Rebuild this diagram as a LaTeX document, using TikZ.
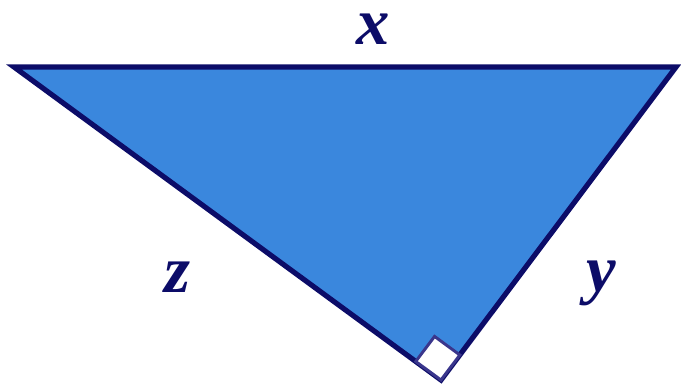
\documentclass[tikz,border=0pt]{standalone}
\usepackage{fontspec}
\setmainfont{Liberation Serif}
\usepackage{xcolor}
\usepackage{tikz}
\usetikzlibrary{calc}
\definecolor{triblue}{RGB}{58,135,221}
\definecolor{trinavy}{RGB}{12,12,104}
\definecolor{sqnavy}{RGB}{58,54,140}
\tikzset{
  side/.style={draw=trinavy,fill=triblue,line width=3.9pt,line join=miter},
  rangle/.style={draw=sqnavy,fill=white,line width=2.2pt},
  lbl/.style={text=trinavy,font=\fontsize{50}{50}\selectfont\bfseries\itshape,inner sep=0pt,anchor=base},
}
\begin{document}
\begin{tikzpicture}[x=0.75pt,y=-0.75pt]
  \useasboundingbox (0,0) rectangle (681,388);
  % corners of the triangle
  \coordinate (A) at (14,67);
  \coordinate (B) at (676,67);
  \coordinate (C) at (441,380);
  \filldraw[side] (A) -- (B) -- (C) -- cycle;
  % right angle mark at C
  \coordinate (ca) at ($(C)!23.5pt!(A)$);
  \coordinate (cb) at ($(C)!23.5pt!(B)$);
  \filldraw[rangle] (C) -- (ca) -- ($(ca)+(cb)-(C)$) -- (cb) -- cycle;
  % side labels
  \node[lbl] (lx) at (373,45) {x};
  \node[lbl] (lz) at (177,292) {z};
  \node[lbl] (ly) at (601,291) {y};
\end{tikzpicture}
\end{document}
